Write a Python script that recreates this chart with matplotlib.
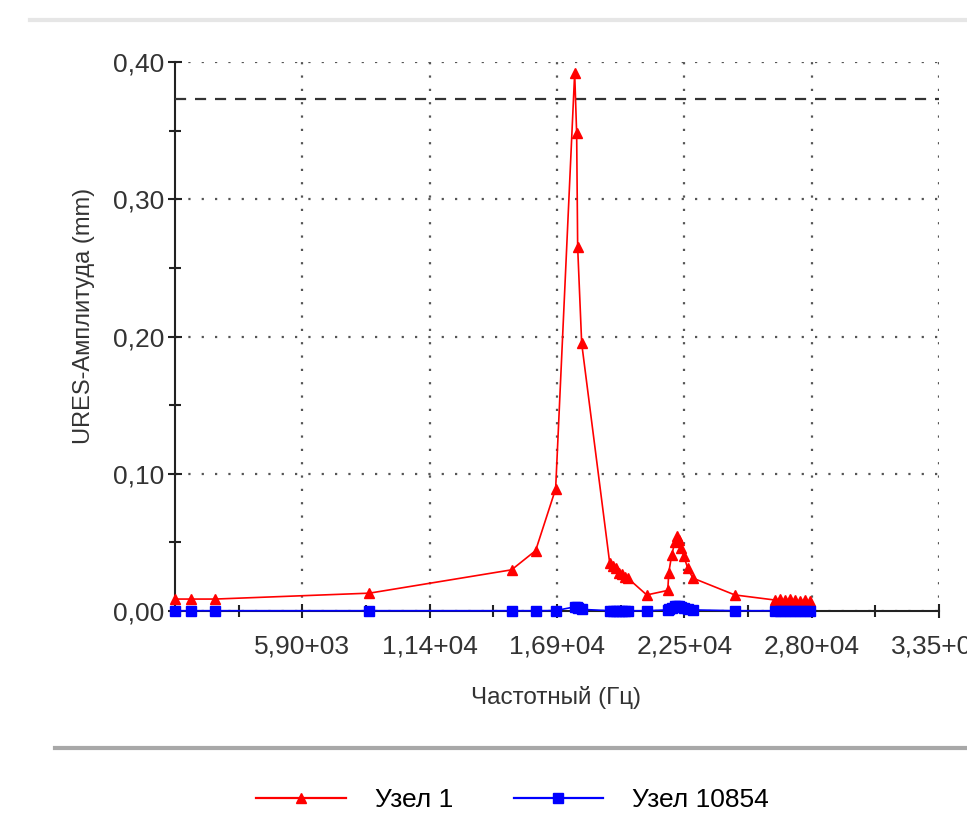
import matplotlib
matplotlib.use("Agg")
import matplotlib.pyplot as plt
from matplotlib.ticker import FuncFormatter, MultipleLocator, FixedLocator
from matplotlib.lines import Line2D

plt.rcParams['font.family'] = ['Liberation Sans', 'DejaVu Sans']

# Frequency response: displacement amplitude of two nodes
freq = [380, 1083, 2125, 8808, 14971, 16013, 16881, 17706, 17792, 17836, 18010,
        19225, 19355, 19485, 19615, 19745, 19876, 20006, 20830,
        21742, 21785, 21915, 22046, 22133, 22220, 22306, 22437, 22610, 22827,
        24650, 26386, 26603, 26820, 27037, 27254, 27471, 27688, 27905]
node1 = [0.0087, 0.0087, 0.0087, 0.013, 0.030, 0.044, 0.089, 0.392, 0.348, 0.265, 0.195,
         0.035, 0.033, 0.031, 0.028, 0.027, 0.025, 0.024, 0.0117,
         0.015, 0.028, 0.041, 0.050, 0.055, 0.052, 0.046, 0.040, 0.031, 0.024,
         0.0117, 0.008, 0.0085, 0.008, 0.0085, 0.008, 0.007, 0.008, 0.007]
node10854 = [0.0002, 0.0002, 0.0002, 0.0002, 0.0002, 0.0002, 0.0003, 0.003, 0.003, 0.0025, 0.0012,
             0.0002, 0.0002, 0.0002, 0.0002, 0.0002, 0.0002, 0.0002, 0.0002,
             0.0008, 0.0015, 0.0025, 0.0033, 0.0035, 0.0033, 0.003, 0.0025, 0.0015, 0.0008,
             0.0002, 0.0002, 0.0002, 0.0002, 0.0002, 0.0002, 0.0002, 0.0002, 0.0002]

limit_level = 0.373
x_start, x_step, x_end = 380, 5520, 33500

fig = plt.figure(figsize=(9.67, 8.18), dpi=100)
ax = fig.add_axes([175 / 967, 207 / 818, (939 - 175) / 967, (611 - 62) / 818])

ax.plot(freq, node1, color='#ff0000', lw=1.2, marker='^', ms=7, zorder=4, clip_on=False)
ax.plot(freq, node10854, color='#0000ff', lw=1.2, marker='s', ms=7.5, zorder=5, clip_on=False)
ax.axhline(limit_level, color='#333333', lw=1.6, ls=(0, (5, 4)), zorder=3)

ax.set_xlim(x_start, x_end)
ax.set_ylim(0, 0.40)

major_x = [x_start + x_step * k for k in range(1, 7)]
minor_x = [x_start + x_step * (k + 0.5) for k in range(0, 6)]
ax.xaxis.set_major_locator(FixedLocator(major_x))
ax.xaxis.set_minor_locator(FixedLocator(minor_x))
ax.yaxis.set_major_locator(MultipleLocator(0.1))
ax.yaxis.set_minor_locator(MultipleLocator(0.05))


def sci_comma(v, pos=None):
    s = f"{v:.2e}"
    mant, exp = s.split('e')
    return f"{mant.replace('.', ',')}+{int(exp):02d}"


ax.xaxis.set_major_formatter(FuncFormatter(sci_comma))
ax.yaxis.set_major_formatter(FuncFormatter(lambda v, p: f"{v:.2f}".replace('.', ',')))

for sp in ['top', 'right']:
    ax.spines[sp].set_visible(False)
for sp in ['left', 'bottom']:
    ax.spines[sp].set_linewidth(1.5)
    ax.spines[sp].set_color('#222222')

ax.tick_params(axis='both', which='major', direction='inout', length=10, width=1.5,
               color='#222222', labelsize=19, labelcolor='#333333')
ax.tick_params(axis='both', which='minor', direction='inout', length=8, width=1.5, color='#222222')
ax.tick_params(axis='x', which='major', pad=12)
ax.tick_params(axis='y', which='major', pad=3)

ax.grid(True, which='major', color='#555555', ls=(0, (1, 5)), lw=1.6)

ax.set_xlabel('Частотный (Гц)', fontsize=17.5, color='#333333')
ax.set_ylabel('URES-Амплитуда (mm)', fontsize=17, color='#333333')
ax.xaxis.set_label_coords(0.499, -0.137)
ax.yaxis.set_label_coords(-0.105, 0.537)

# panel separator lines
fig.add_artist(Line2D([30 / 967, 1], [1 - 20 / 818, 1 - 20 / 818], color='#e6e6e6', lw=3))
fig.add_artist(Line2D([55 / 967, 1], [1 - 748 / 818, 1 - 748 / 818], color='#a8a8a8', lw=3))

handles = [Line2D([], [], color='#ff0000', lw=1.6, marker='^', ms=6.5),
           Line2D([], [], color='#0000ff', lw=1.6, marker='s', ms=6.5)]
fig.legend(handles, ['Узел 1', 'Узел 10854'], loc='center', bbox_to_anchor=(0.53, 1 - 800 / 818),
           ncol=2, frameon=False, fontsize=19, handlelength=3.4, columnspacing=2.3,
           handletextpad=1.1)

fig.savefig('out.png', dpi=100, facecolor='white')
